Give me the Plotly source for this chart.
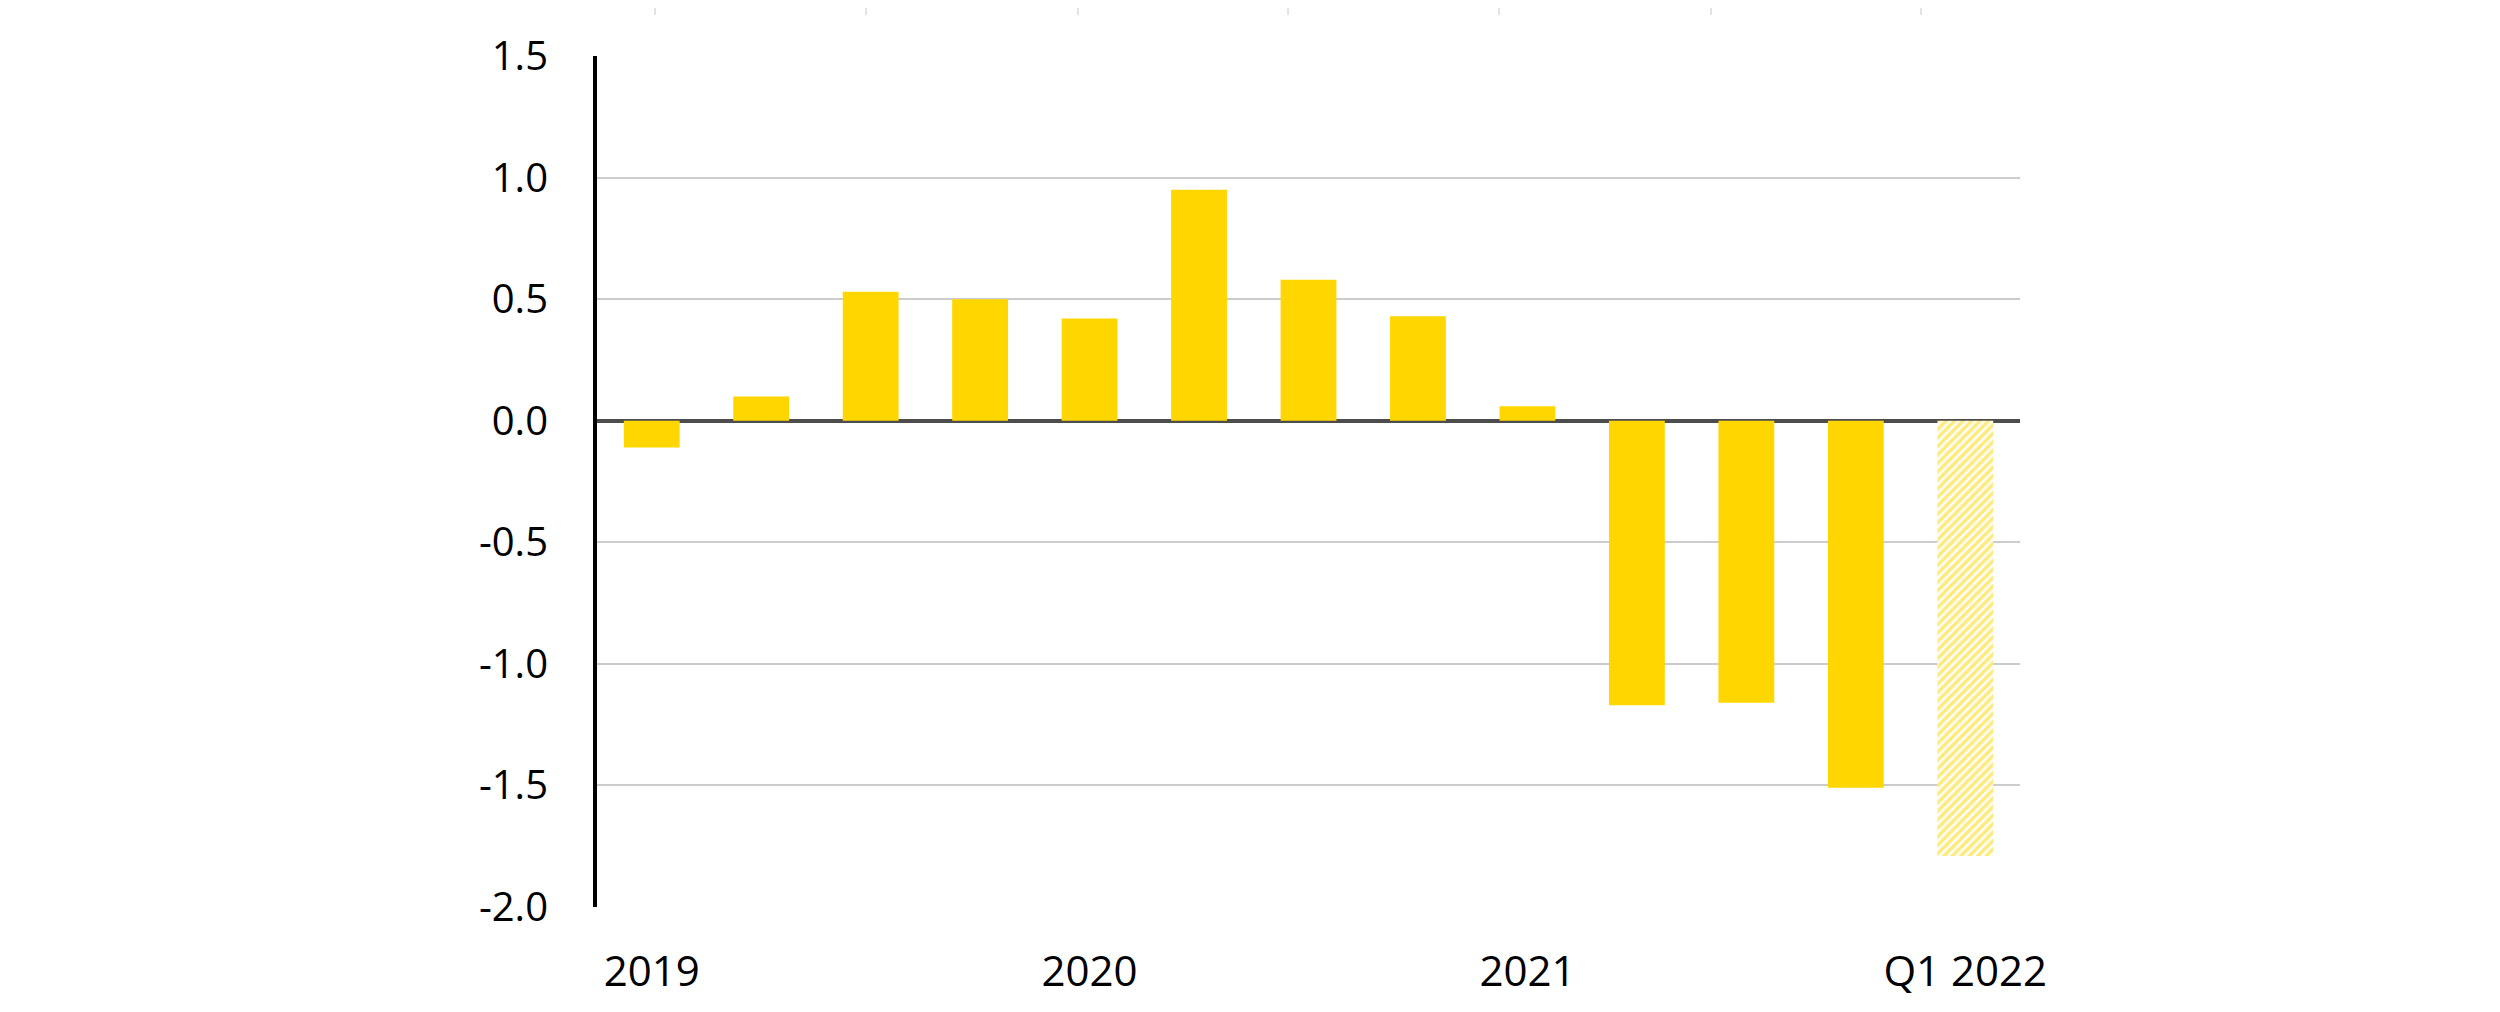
import plotly.graph_objects as go

# Data
categories = ["Q1 2019", "Q2 2019", "Q3 2019", "Q4 2019",
              "Q1 2020", "Q2 2020", "Q3 2020", "Q4 2020",
              "Q1 2021", "Q2 2021", "Q3 2021", "Q4 2021",
              "Q1 2022"]
values = [-0.11, 0.10, 0.53, 0.50, 0.42, 0.95, 0.58, 0.43, 0.06,
          -1.17, -1.16, -1.51, -1.79]
forecast = [False] * 12 + [True]
tick_categories = ["Q1 2019", "Q1 2020", "Q1 2021", "Q1 2022"]
tick_labels = ["2019", "2020", "2021", "Q1 2022"]
y_ticks = [1.5, 1.0, 0.5, 0.0, -0.5, -1.0, -1.5, -2.0]

GOLD = "#FFD600"

act_x = [c for c, f in zip(categories, forecast) if not f]
act_y = [v for v, f in zip(values, forecast) if not f]
fc_x = [c for c, f in zip(categories, forecast) if f]
fc_y = [v for v, f in zip(values, forecast) if f]

fig = go.Figure()
fig.add_trace(go.Bar(
    x=act_x, y=act_y,
    marker=dict(color=GOLD, line=dict(width=0)),
    showlegend=False,
))
fig.add_trace(go.Bar(
    x=fc_x, y=fc_y,
    marker=dict(
        color="white",
        line=dict(width=0),
        pattern=dict(shape="/", fgcolor=GOLD, bgcolor="white",
                     size=6, solidity=0.6, fillmode="overlay"),
    ),
    showlegend=False,
))

# faint short ticks along the very top edge (residue of a chart above)
W, H = 2492, 1004
L, T, PW, PH = 589, 48, 1423, 851
top_tick_px = [647, 858, 1070, 1280, 1491, 1703, 1913]
shapes = []
for px in top_tick_px:
    xp = (px - L) / PW
    shapes.append(dict(type="line", xref="paper", yref="paper",
                       x0=xp, x1=xp, y0=1 + T / PH, y1=1 + (T - 7) / PH,
                       line=dict(color="#c8c8c8", width=1)))

fig.update_layout(
    width=W, height=H,
    margin=dict(l=L, r=W - L - PW, t=T, b=H - T - PH, pad=0),
    plot_bgcolor="white", paper_bgcolor="white",
    barmode="relative",
    bargap=0.49,
    font=dict(family="Open Sans", color="black"),
    shapes=shapes,
)
fig.update_xaxes(
    type="category",
    categoryorder="array", categoryarray=categories,
    tickmode="array", tickvals=tick_categories, ticktext=tick_labels,
    tickfont=dict(size=42, family="Open Sans", color="black"),
    ticks="", ticklabelstandoff=36,
    showgrid=False, showline=False, zeroline=False,
)
fig.update_yaxes(
    range=[-2.0, 1.5],
    tickmode="array", tickvals=y_ticks,
    ticktext=[f"{v:.1f}" for v in y_ticks],
    tickfont=dict(size=40, family="Open Sans", color="black"),
    ticks="", ticklabelstandoff=37,
    showgrid=True, gridcolor="#cccccc", gridwidth=1.5,
    showline=True, linecolor="black", linewidth=4,
    zeroline=True, zerolinecolor="#4d4d4d", zerolinewidth=4,
)

fig.write_html("out.html")
